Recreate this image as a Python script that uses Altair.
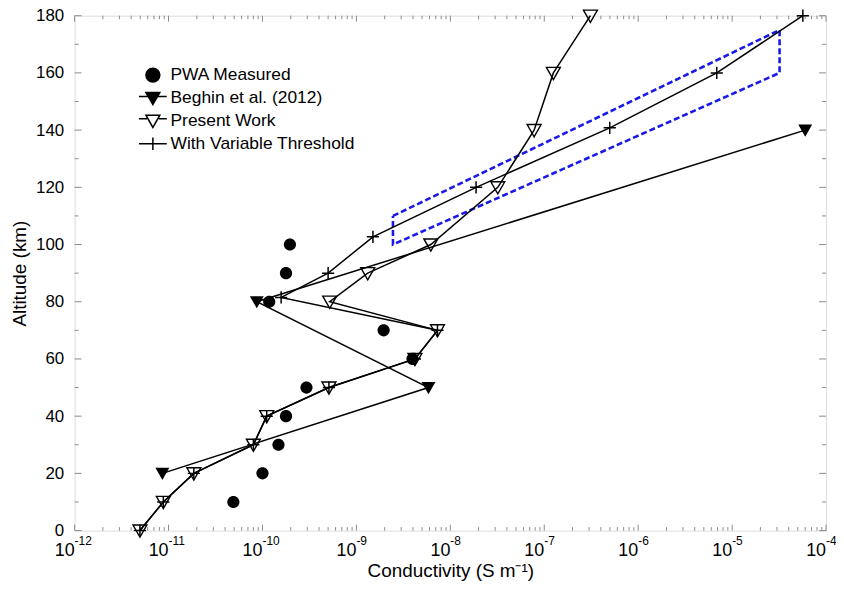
import altair as alt
import pandas as pd

# ---------------- data ----------------
pwa_alt = [10, 20, 30, 40, 50, 60, 70, 80, 90, 100]
pwa_cond = [4.9e-11, 1.0e-10, 1.48e-10, 1.78e-10, 2.94e-10, 3.96e-9, 1.95e-9, 1.18e-10, 1.78e-10, 1.96e-10]

beghin_alt = [20, 50, 80, 140]
beghin_cond = [8.6e-12, 5.85e-9, 8.7e-11, 6.0e-5]

present_alt = [0, 10, 20, 30, 40, 50, 60, 70, 80, 90, 100, 120, 140, 160, 180]
present_cond = [4.96e-12, 8.8e-12, 1.86e-11, 8.0e-11, 1.11e-10, 5.1e-10, 4.2e-9, 7.3e-9,
                5.2e-10, 1.32e-9, 6.2e-9, 3.2e-8, 7.8e-8, 1.25e-7, 3.1e-7]

vt_alt = [0, 10, 20, 30, 40, 50, 60, 70, 81.5, 90, 102.7, 120, 140.8, 160, 180]
vt_cond = [4.96e-12, 8.8e-12, 1.86e-11, 8.0e-11, 1.11e-10, 5.1e-10, 4.2e-9, 7.3e-9,
           1.58e-10, 5.0e-10, 1.5e-9, 1.88e-8, 4.98e-7, 6.86e-6, 5.66e-5]

box_alt = [110, 175, 160, 100, 110]
box_cond = [2.45e-9, 3.2e-5, 3.2e-5, 2.45e-9, 2.45e-9]

series_names = ["PWA Measured", "Beghin et al. (2012)", "Present Work", "With Variable Threshold"]

decade_exp = [-12, -11, -10, -9, -8, -7, -6, -5, -4]
y_major = [0, 20, 40, 60, 80, 100, 120, 140, 160, 180]
y_minor = [10, 30, 50, 70, 90, 110, 130, 150, 170]

W, H = 756, 518
FONT = "Liberation Sans"
GRAY = "#8a8a8a"

# ---------------- frames ----------------
def frame(a, c):
    return pd.DataFrame({"alt": a, "cond": c, "i": list(range(len(a)))})

pwa_df = frame(pwa_alt, pwa_cond)
beg_df = frame(beghin_alt, beghin_cond)
pre_df = frame(present_alt, present_cond)
vt_df = frame(vt_alt, vt_cond)
box_df = frame(box_alt, box_cond)

major_x = pd.DataFrame({"v": [10.0 ** e for e in decade_exp],
                        "base": ["10"] * len(decade_exp),
                        "exp": [str(e) for e in decade_exp]})
minor_x = pd.DataFrame({"v": [m * 10.0 ** e for e in decade_exp[:-1] for m in range(2, 10)]})
ymaj_df = pd.DataFrame({"v": y_major})
ymin_df = pd.DataFrame({"v": y_minor})

xs = alt.Scale(type="log", domain=[1e-12, 1e-4], nice=False)
ys = alt.Scale(domain=[0, 180], nice=False)

X = alt.X("cond:Q", scale=xs,
          axis=alt.Axis(title="Conductivity (S m⁻¹)", labels=False, ticks=False, domain=False,
                        grid=False, titleFont=FONT, titleFontSize=19, titleFontWeight="normal",
                        titleColor="black", titlePadding=31))
Y = alt.Y("alt:Q", scale=ys,
          axis=alt.Axis(title="Altitude (km)", values=y_major, ticks=False, domain=False, grid=False,
                        labelFont=FONT, labelFontSize=17, labelColor="black", labelPadding=11,
                        titleFont=FONT, titleFontSize=19, titleFontWeight="normal",
                        titleColor="black", titlePadding=6))

def xq(df_field="cond"):
    return alt.X(f"{df_field}:Q", scale=xs)

def yq(df_field="alt"):
    return alt.Y(f"{df_field}:Q", scale=ys)

# ---------------- ticks (inward) ----------------
ticks = []
for df, ln in ((major_x, 6), (minor_x, 3.5)):
    ticks.append(alt.Chart(df).mark_rule(color=GRAY, strokeWidth=1).encode(
        x=alt.X("v:Q", scale=xs), y=alt.value(H), y2=alt.value(H - ln)))
    ticks.append(alt.Chart(df).mark_rule(color=GRAY, strokeWidth=1).encode(
        x=alt.X("v:Q", scale=xs), y=alt.value(0), y2=alt.value(ln)))
for df, ln in ((ymaj_df, 7), (ymin_df, 4)):
    ticks.append(alt.Chart(df).mark_rule(color=GRAY, strokeWidth=1).encode(
        y=alt.Y("v:Q", scale=ys), x=alt.value(0), x2=alt.value(ln)))
    ticks.append(alt.Chart(df).mark_rule(color=GRAY, strokeWidth=1).encode(
        y=alt.Y("v:Q", scale=ys), x=alt.value(W), x2=alt.value(W - ln)))

# x tick labels 10^n
lab_base = alt.Chart(major_x).mark_text(font=FONT, fontSize=18, align="right", baseline="alphabetic",
                                         color="black").encode(
    x=alt.X("v:Q", scale=xs), y=alt.value(H + 26), text="base:N")
lab_exp = alt.Chart(major_x).mark_text(font=FONT, fontSize=12, align="left", baseline="alphabetic",
                                        color="black").encode(
    x=alt.X("v:Q", scale=xs), y=alt.value(H + 15), text="exp:N")

# ---------------- data layers ----------------
base = alt.Chart(pwa_df).mark_point(opacity=0).encode(x=X, y=Y)

box = alt.Chart(box_df).mark_line(color="#1a1ae8", strokeWidth=2.6, strokeDash=[6, 3]).encode(
    x=xq(), y=yq(), order="i:Q")

def line(df, w=1.5):
    return alt.Chart(df).mark_line(color="black", strokeWidth=w).encode(x=xq(), y=yq(), order="i:Q")

TRI = "M-1,-0.8H1L0,0.95Z"
CIRC = "M-1,0A1,1 0 1,1 1,0A1,1 0 1,1 -1,0Z"
PLUS = "M-1,0H1M0,-1V1"

pwa_pts = alt.Chart(pwa_df).mark_point(shape=CIRC, filled=True, color="black", size=150, opacity=1).encode(
    x=xq(), y=yq())
beg_pts = alt.Chart(beg_df).mark_point(shape=TRI, filled=True, color="black", size=196, opacity=1).encode(
    x=xq(), y=yq())
pre_pts = alt.Chart(pre_df).mark_point(shape=TRI, filled=False, color="black", size=196, strokeWidth=1.4,
                                       opacity=1).encode(x=xq(), y=yq())
vt_pts = alt.Chart(vt_df).mark_point(shape=PLUS, filled=False, color="black", size=150, strokeWidth=1.5,
                                     opacity=1).encode(x=xq(), y=yq())

# ---------------- legend (its own points sit outside the domain and are clipped) ----------------
leg_df = pd.DataFrame({"series": series_names, "cond": [1e-20] * 4, "alt": [90] * 4})
LEG_SHAPES = [CIRC,
              "M-2,-0.2H2M-1,-0.8H1L0,0.95Z",
              "M-2,-0.3H-0.85M0.85,-0.3H2M-1,-0.8H1L0,0.95Z",
              "M-2,0H2M0,-0.9V0.9"]
leg_props = dict(title=None, orient="none", legendX=70, legendY=51,
                 symbolSize=196, symbolOpacity=1,
                 symbolStrokeWidth=1.5, labelFont=FONT, labelFontSize=17.5,
                 labelColor="black", labelOffset=9, rowPadding=3,
                 padding=0, labelLimit=400)
legend = alt.Chart(leg_df).mark_point(opacity=1, size=196, clip=True).encode(
    x=xq(), y=yq(),
    shape=alt.Shape("series:N", scale=alt.Scale(domain=series_names, range=LEG_SHAPES),
                    legend=alt.Legend(**leg_props)),
    fill=alt.Fill("series:N", scale=alt.Scale(domain=series_names,
                                              range=["black", "black", "transparent", "transparent"]),
                  legend=alt.Legend(**leg_props)),
    stroke=alt.Stroke("series:N", scale=alt.Scale(domain=series_names,
                                                  range=["black", "black", "black", "black"]),
                      legend=alt.Legend(**leg_props)),
)

chart = alt.layer(
    base, *ticks, lab_base, lab_exp, box,
    line(beg_df), line(pre_df), line(vt_df),
    pwa_pts, beg_pts, pre_pts, vt_pts, legend
).properties(
    width=W, height=H,
    autosize=alt.AutoSizeParams(type="none"),
    padding={"left": 67, "top": 6, "right": 10, "bottom": 52},
).configure_view(stroke=GRAY, strokeWidth=1.2).configure(background="white")

chart.save("out.html", embed_options={"renderer": "svg", "actions": False})
